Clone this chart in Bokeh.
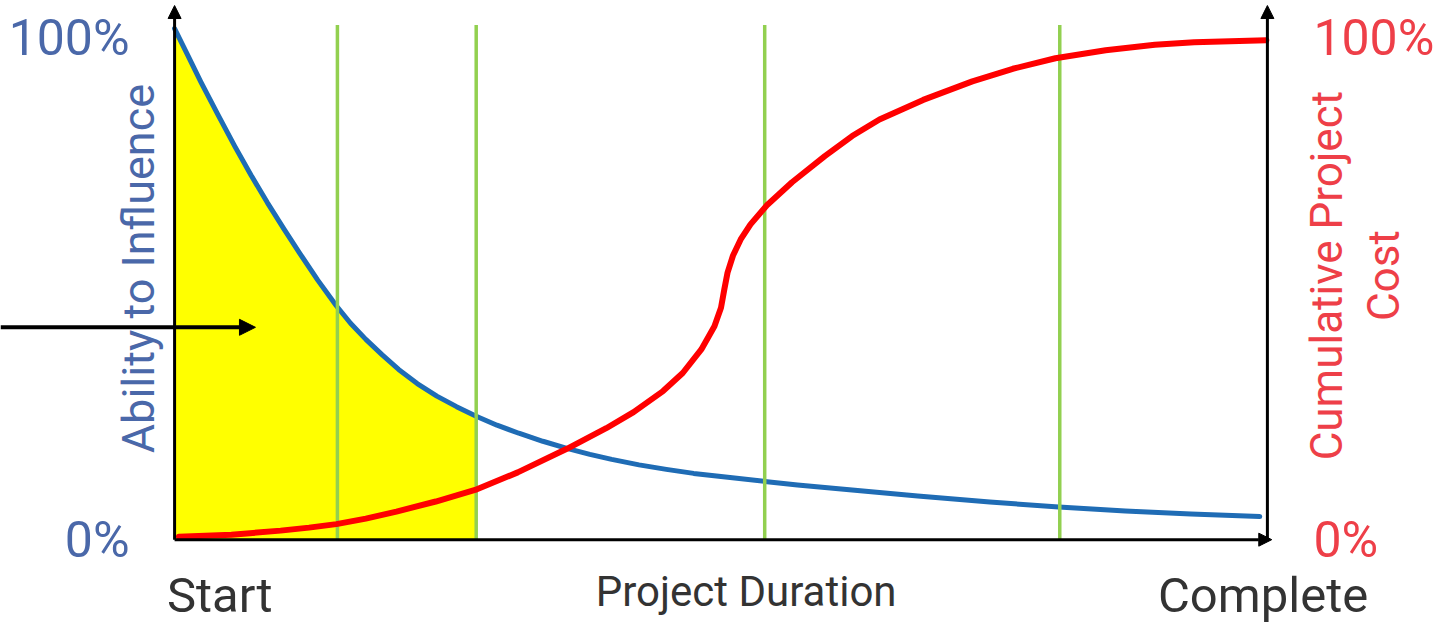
from bokeh.plotting import figure
from bokeh.models import Arrow, NormalHead, LinearAxis, FixedTicker, Range1d
from bokeh.core.properties import value
from bokeh.embed import file_html
from bokeh.resources import INLINE
import math

# ---- data (x: % of project duration, y: %) ----
influence_x = [0, 1.2, 2.4, 4.0, 5.5, 7.0, 8.5, 10.0, 11.5, 13.1, 14.8, 16.1, 17.5,
               19.0, 20.5, 22.2, 24.0, 25.8, 27.6, 29.5, 31.5, 33.7, 35.9, 38.0,
               40.0, 42.5, 45.0, 47.5, 50.0, 54.0, 57.0, 62.0, 68.0, 74.6, 80.9,
               87.0, 93.0, 99.3]
influence_y = [101.8, 96.5, 91.2, 84.5, 78.4, 72.6, 67.1, 61.9, 56.9, 51.7, 46.6, 43.1,
               39.9, 36.8, 33.9, 31.1, 28.6, 26.5, 24.6, 22.8, 21.2, 19.6, 18.2, 17.0,
               16.0, 14.9, 14.0, 13.2, 12.6, 11.6, 10.9, 9.9, 8.7, 7.5, 6.5,
               5.7, 5.1, 4.6]

cost_x = [0.4, 5.2, 9.7, 12.3, 14.8, 17.5, 20.3, 23.9, 27.5, 31.4, 35.9, 39.5, 42.0,
          44.7, 46.5, 48.2, 49.4, 50.0, 50.3, 50.6, 51.1, 51.8, 52.7, 54.2, 56.5,
          59.5, 62.0, 64.5, 68.5, 73.0, 76.7, 80.6, 85.2, 89.7, 93.3, 99.9]
cost_y = [0.6, 1.0, 1.8, 2.4, 3.1, 4.2, 5.6, 7.6, 9.9, 13.4, 18.1, 22.2, 25.4,
          29.6, 33.2, 37.9, 42.5, 46.2, 49.8, 53.2, 56.6, 59.8, 62.8, 66.6, 71.2,
          76.4, 80.4, 83.7, 87.6, 91.3, 93.8, 95.9, 97.5, 98.6, 99.1, 99.5]

phase_x = [14.9, 27.6, 54.0, 81.0]
shaded_until = 27.6

y_ticks = [0, 100]
y_tick_labels = {0: "0%", 100: "100%"}
x_labels = ["Start", "Project Duration", "Complete"]
left_title = "Ability to Influence"
right_title = "Cumulative Project\nCost"

BLUE_TXT = "#4A68A9"
RED_TXT = "#EE3F48"
BLUE = "#1F6CB5"
RED = "#FF0000"
GREEN = "#92D050"
FONT = "Roboto"

p = figure(width=1440, height=623, x_range=Range1d(-15.93, 115.84),
           y_range=Range1d(-16.7, 107.4), output_backend="svg",
           toolbar_location=None, x_axis_location=None, y_axis_location=None,
           min_border=0)
p.grid.visible = False
p.outline_line_color = None
p.background_fill_color = "white"

# tick-label axes placed on the drawn axis lines
left_axis = LinearAxis(fixed_location=0, ticker=FixedTicker(ticks=y_ticks),
                       major_label_overrides=y_tick_labels,
                       axis_line_color=None, major_tick_line_color=None,
                       minor_tick_line_color=None, major_label_standoff=39,
                       major_label_text_font_size="50px",
                       major_label_text_color=BLUE_TXT,
                       major_label_text_font=FONT)
p.add_layout(left_axis, "left")
right_axis = LinearAxis(fixed_location=100, ticker=FixedTicker(ticks=y_ticks),
                        major_label_overrides=y_tick_labels,
                        axis_line_color=None, major_tick_line_color=None,
                        minor_tick_line_color=None, major_label_standoff=40,
                        major_label_text_font_size="50px",
                        major_label_text_color=RED_TXT,
                        major_label_text_font=FONT)
p.add_layout(right_axis, "right")

# shaded area under influence curve
sx = [x for x in influence_x if x <= shaded_until]
sy = influence_y[:len(sx)]
p.varea(x=sx, y1=[0] * len(sx), y2=sy, fill_color="#FFFF00")

p.line(influence_x, influence_y, line_color=BLUE, line_width=5, line_join="round",
       line_cap="round")
p.segment(x0=phase_x, y0=[0] * len(phase_x), x1=phase_x, y1=[102.5] * len(phase_x),
          line_color=GREEN, line_width=3.5)
p.line(cost_x, cost_y, line_color=RED, line_width=6, line_join="round", line_cap="round")

# axis lines with arrow heads
def arrow(x0, y0, x1, y1, w, size):
    p.add_layout(Arrow(end=NormalHead(size=size, fill_color="black", line_color="black"),
                       x_start=x0, y_start=y0, x_end=x1, y_end=y1,
                       line_color="black", line_width=w))

arrow(0, 0, 0, 106.4, 3, 13)
arrow(100, 0, 100, 106.4, 3, 13)
arrow(0, 0, 100.4, 0, 3, 13)
arrow(-15.93, 42.3, 7.4, 42.3, 4, 16)

# texts
p.text(x=[-0.7], y=[-11.1], text=[x_labels[0]], text_font=value(FONT),
       text_font_size="49px", text_color="#333333", text_align="left",
       text_baseline="middle")
p.text(x=[52.3], y=[-10.4], text=[x_labels[1]], text_font=value(FONT),
       text_font_size="42px", text_color="#333333", text_align="center",
       text_baseline="middle")
p.text(x=[99.6], y=[-11.1], text=[x_labels[2]], text_font=value(FONT),
       text_font_size="49px", text_color="#333333", text_align="center",
       text_baseline="middle")
p.text(x=[-3.26], y=[54.0], text=[left_title], text_font=value(FONT),
       text_font_size="45px", text_color=BLUE_TXT, text_align="center",
       text_baseline="middle", angle=math.pi / 2)
p.text(x=[108.05], y=[52.6], text=[right_title], text_font=value(FONT),
       text_font_size="44px", text_color=RED_TXT, text_align="center",
       text_baseline="middle", angle=math.pi / 2, text_line_height=1.1)

open("out.html", "w").write(file_html(p, INLINE))
